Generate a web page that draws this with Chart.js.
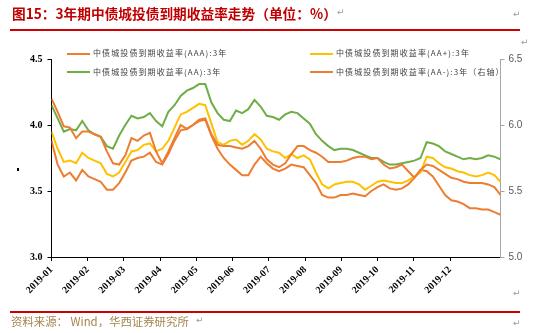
<!DOCTYPE html>
<html>
<head>
<meta charset="utf-8">
<script src="https://cdn.jsdelivr.net/npm/chart.js@4.4.0/dist/chart.umd.min.js"></script>
<style>
  body { margin: 0; width: 540px; height: 333px; position: relative; background: #fff; overflow: hidden; }
  #chart { position: absolute; left: 0; top: 0; }
  #title { position: absolute; left: 12px; top: 5px; font: bold 13.7px "Noto Sans CJK SC"; line-height: 16px; color: #c00000; white-space: nowrap; }
  .rule { position: absolute; left: 10px; width: 510px; height: 2px; background: #cc0000; }
  #legend { position: absolute; left: 67px; top: 46px; display: grid; grid-template-columns: 243px auto; row-gap: 4px; }
  #legend div { font: 8px "Noto Sans CJK SC"; line-height: 14.5px; letter-spacing: 1.1px; color: #404040; white-space: nowrap; }
  #legend span { display: inline-block; width: 23px; height: 2px; margin-right: 3px; vertical-align: middle; }
  #source { position: absolute; left: 11px; top: 314px; font: 11.4px "Noto Sans CJK SC"; line-height: 14px; color: #a5844e; white-space: nowrap; }
  .mark { position: absolute; font: 9px "DejaVu Sans"; color: #9a9a9a; }
  #dot { position: absolute; left: 17px; top: 168px; width: 2px; height: 3px; background: #000; }
</style>
</head>
<body>
<canvas id="chart" width="540" height="333"></canvas>
<div id="title">图15：3年期中债城投债到期收益率走势（单位：%）</div>
<div class="rule" style="top:29px"></div>
<div id="legend"></div>
<div id="dot"></div>
<div class="rule" style="top:311px"></div>
<div id="source">资料来源： Wind，华西证券研究所</div>
<div class="mark" style="left:337px;top:7px">↵</div>
<div class="mark" style="left:513px;top:9px">↵</div>
<div class="mark" style="left:521px;top:37px">↵</div>
<div class="mark" style="left:513px;top:288px">↵</div>
<div class="mark" style="left:196px;top:315px">↵</div>
<div class="mark" style="left:513px;top:318px">↵</div>
<script>
// month labels along the bottom axis
var months = ['2019-01', '2019-02', '2019-03', '2019-04', '2019-05', '2019-06',
  '2019-07', '2019-08', '2019-09', '2019-10', '2019-11', '2019-12'];

// series names
var names = ['中债城投债到期收益率(AAA):3年', '中债城投债到期收益率(AA+):3年',
  '中债城投债到期收益率(AA):3年', '中债城投债到期收益率(AA-):3年（右轴）'];

// yields (%), left axis
var aaa = [
  3.88, 3.70, 3.61, 3.64, 3.58, 3.66, 3.61, 3.59, 3.57, 3.51,
  3.51, 3.56, 3.64, 3.73, 3.75, 3.76, 3.79, 3.72, 3.70, 3.78,
  3.88, 3.96, 3.97, 4.00, 4.03, 4.04, 3.92, 3.82, 3.75, 3.70,
  3.66, 3.62, 3.62, 3.70, 3.76, 3.71, 3.67, 3.65, 3.67, 3.70,
  3.69, 3.68, 3.62, 3.56, 3.47, 3.45, 3.45, 3.47, 3.47, 3.48,
  3.47, 3.46, 3.50, 3.53, 3.55, 3.52, 3.51, 3.52, 3.55, 3.60,
  3.66, 3.65, 3.61, 3.54, 3.47, 3.43, 3.42, 3.40, 3.37, 3.37,
  3.36, 3.36, 3.34, 3.32
];
var aaPlus = [
  3.95, 3.82, 3.72, 3.73, 3.71, 3.79, 3.75, 3.73, 3.71, 3.63,
  3.61, 3.64, 3.72, 3.80, 3.81, 3.85, 3.86, 3.80, 3.82, 3.88,
  3.98, 4.08, 4.10, 4.13, 4.16, 4.15, 4.01, 3.87, 3.85, 3.88,
  3.89, 3.85, 3.88, 3.93, 3.89, 3.82, 3.80, 3.79, 3.75, 3.78,
  3.75, 3.77, 3.74, 3.64, 3.55, 3.52, 3.55, 3.56, 3.57, 3.57,
  3.55, 3.51, 3.54, 3.57, 3.58, 3.57, 3.56, 3.56, 3.58, 3.61,
  3.64, 3.76, 3.75, 3.71, 3.68, 3.67, 3.65, 3.64, 3.62, 3.61,
  3.62, 3.64, 3.62, 3.57
];
var aa = [
  4.15, 4.05, 3.95, 3.97, 3.96, 4.03, 3.96, 3.93, 3.91, 3.84,
  3.82, 3.92, 4.00, 4.07, 4.05, 4.06, 4.09, 4.03, 3.99, 4.10,
  4.15, 4.22, 4.26, 4.28, 4.31, 4.31, 4.17, 4.09, 4.04, 4.03,
  4.11, 4.09, 4.12, 4.19, 4.14, 4.07, 4.06, 4.04, 4.08, 4.10,
  4.09, 4.05, 4.01, 3.93, 3.88, 3.84, 3.81, 3.82, 3.82, 3.81,
  3.79, 3.77, 3.75, 3.75, 3.72, 3.70, 3.70, 3.71, 3.72, 3.73,
  3.75, 3.87, 3.86, 3.84, 3.80, 3.78, 3.76, 3.74, 3.75, 3.74,
  3.75, 3.77, 3.76, 3.74
];
// right axis
var aaMinus = [
  6.20, 6.10, 5.99, 5.98, 5.90, 5.95, 5.95, 5.93, 5.91, 5.80,
  5.71, 5.70, 5.77, 5.90, 5.88, 5.92, 5.94, 5.80, 5.71, 5.80,
  5.90, 6.00, 5.97, 6.00, 6.04, 6.05, 5.93, 5.85, 5.84, 5.84,
  5.83, 5.82, 5.84, 5.88, 5.82, 5.74, 5.70, 5.68, 5.71, 5.78,
  5.84, 5.84, 5.81, 5.79, 5.76, 5.72, 5.72, 5.72, 5.73, 5.75,
  5.76, 5.76, 5.74, 5.75, 5.70, 5.67, 5.68, 5.70, 5.65, 5.60,
  5.66, 5.70, 5.69, 5.66, 5.63, 5.60, 5.59, 5.57, 5.56, 5.56,
  5.56, 5.55, 5.53, 5.47
];

var colors = ['#ed7d31', '#ffc000', '#70ad47', '#ed7d31'];
// spacing of month labels, in data points
var tickEvery = 5.89;

function buildLegend(chart) {
  var box = document.getElementById('legend');
  chart.data.datasets.forEach(function (ds) {
    var item = document.createElement('div');
    var swatch = document.createElement('span');
    swatch.style.background = ds.borderColor;
    item.appendChild(swatch);
    item.appendChild(document.createTextNode(ds.label));
    box.appendChild(item);
  });
}

function drawChart() {
  var series = [aaa, aaPlus, aa, aaMinus];
  var axes = ['y', 'y', 'y', 'y1'];
  var datasets = series.map(function (values, i) {
    return {
      label: names[i],
      data: values,
      yAxisID: axes[i],
      borderColor: colors[i],
      borderWidth: 2,
      pointRadius: 0,
      tension: 0,
      order: i === 3 ? 0 : 4 - i
    };
  });
  var labels = aaa.map(function (v, i) { return i; });

  var ctx = document.getElementById('chart').getContext('2d');
  var chart = new Chart(ctx, {
    type: 'line',
    data: { labels: labels, datasets: datasets },
    options: {
      responsive: false,
      animation: false,
      devicePixelRatio: 1,
      layout: { padding: { top: 59, left: 0, right: 0, bottom: 0 } },
      plugins: { legend: { display: false }, tooltip: { enabled: false } },
      scales: {
        x: {
          type: 'linear',
          min: 0,
          max: labels.length - 1,
          afterBuildTicks: function (scale) {
            scale.ticks = months.map(function (m, i) { return { value: i * tickEvery }; });
          },
          afterFit: function (scale) { scale.height = 76; },
          grid: { drawOnChartArea: false, drawTicks: true, tickLength: 4, color: '#000' },
          border: { color: '#000' },
          ticks: {
            autoSkip: false,
            maxRotation: 45,
            minRotation: 45,
            padding: 3,
            color: '#000',
            font: { family: 'Liberation Serif', size: 10, weight: 'bold' },
            callback: function (v, i) { return months[i]; }
          }
        },
        y: {
          position: 'left',
          min: 3.0,
          max: 4.5,
          afterFit: function (scale) { scale.width = 51.5; },
          grid: { drawOnChartArea: false, tickLength: 4, color: '#000' },
          border: { color: '#000' },
          ticks: {
            stepSize: 0.5,
            padding: 5,
            color: '#000',
            font: { family: 'Liberation Serif', size: 10, weight: 'bold' },
            callback: function (v) { return v.toFixed(1); }
          }
        },
        y1: {
          position: 'right',
          min: 5.0,
          max: 6.5,
          afterFit: function (scale) { scale.width = 39.5; },
          grid: { drawOnChartArea: false, tickLength: 4, color: '#a6a6a6' },
          border: { color: '#a6a6a6' },
          ticks: {
            stepSize: 0.5,
            padding: 4,
            color: '#595959',
            font: { family: 'Liberation Sans', size: 10 },
            callback: function (v) { return v.toFixed(1); }
          }
        }
      }
    }
  });
  buildLegend(chart);
}

window.addEventListener('load', drawChart, false);
</script>
</body>
</html>
